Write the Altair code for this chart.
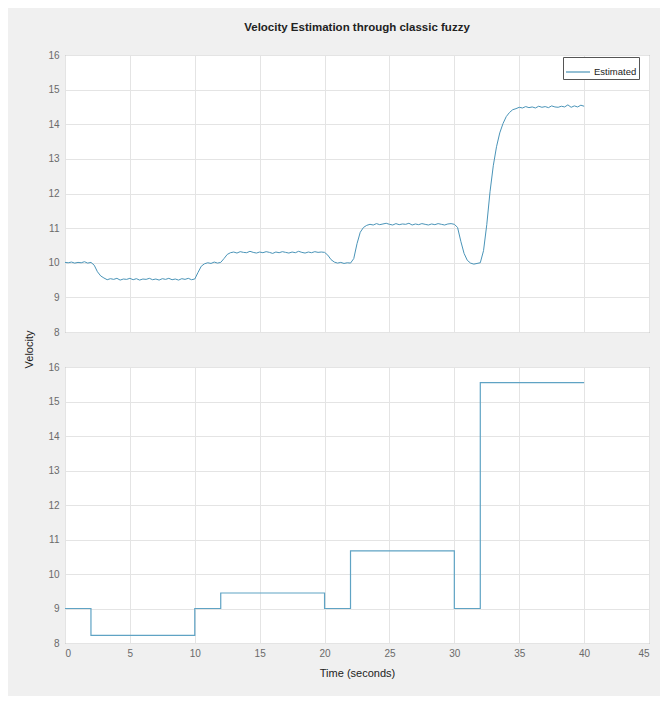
import altair as alt
import pandas as pd

# ---------------- data ----------------
time_est = [
    0.00, 0.25, 0.50, 0.75, 1.00, 1.25, 1.50, 1.75, 2.00, 2.25,
    2.50, 2.75, 3.00, 3.25, 3.50, 3.75, 4.00, 4.25, 4.50, 4.75,
    5.00, 5.25, 5.50, 5.75, 6.00, 6.25, 6.50, 6.75, 7.00, 7.25,
    7.50, 7.75, 8.00, 8.25, 8.50, 8.75, 9.00, 9.25, 9.50, 9.75,
    10.00, 10.25, 10.50, 10.75, 11.00, 11.25, 11.50, 11.75, 12.00, 12.25,
    12.50, 12.75, 13.00, 13.25, 13.50, 13.75, 14.00, 14.25, 14.50, 14.75,
    15.00, 15.25, 15.50, 15.75, 16.00, 16.25, 16.50, 16.75, 17.00, 17.25,
    17.50, 17.75, 18.00, 18.25, 18.50, 18.75, 19.00, 19.25, 19.50, 19.75,
    20.00, 20.25, 20.50, 20.75, 21.00, 21.25, 21.50, 21.75, 22.00, 22.25,
    22.50, 22.75, 23.00, 23.25, 23.50, 23.75, 24.00, 24.25, 24.50, 24.75,
    25.00, 25.25, 25.50, 25.75, 26.00, 26.25, 26.50, 26.75, 27.00, 27.25,
    27.50, 27.75, 28.00, 28.25, 28.50, 28.75, 29.00, 29.25, 29.50, 29.75,
    30.00, 30.25, 30.50, 30.75, 31.00, 31.25, 31.50, 31.75, 32.00, 32.25,
    32.50, 32.75, 33.00, 33.25, 33.50, 33.75, 34.00, 34.25, 34.50, 34.75,
    35.00, 35.25, 35.50, 35.75, 36.00, 36.25, 36.50, 36.75, 37.00, 37.25,
    37.50, 37.75, 38.00, 38.25, 38.50, 38.75, 39.00, 39.25, 39.50, 39.75,
    40.00,
]
vel_est = [
    10.01, 10.00, 10.02, 9.99, 10.01, 10.00, 10.03, 9.99, 10.01, 9.93,
    9.74, 9.62, 9.56, 9.51, 9.54, 9.52, 9.55, 9.50, 9.53, 9.52,
    9.55, 9.51, 9.54, 9.50, 9.53, 9.52, 9.55, 9.51, 9.53, 9.50,
    9.54, 9.52, 9.55, 9.51, 9.53, 9.50, 9.54, 9.52, 9.55, 9.51,
    9.53, 9.72, 9.90, 9.97, 10.00, 9.98, 10.02, 9.99, 10.01, 10.12,
    10.24, 10.29, 10.31, 10.28, 10.32, 10.30, 10.29, 10.33, 10.30, 10.28,
    10.31, 10.29, 10.32, 10.30, 10.27, 10.31, 10.29, 10.32, 10.30, 10.28,
    10.31, 10.29, 10.33, 10.30, 10.28, 10.31, 10.29, 10.32, 10.30, 10.31,
    10.30, 10.22, 10.09, 10.02, 9.99, 10.01, 9.98, 10.00, 9.99, 10.12,
    10.55, 10.88, 11.02, 11.08, 11.11, 11.09, 11.13, 11.10, 11.12, 11.14,
    11.11, 11.09, 11.13, 11.10, 11.12, 11.11, 11.14, 11.09, 11.12, 11.10,
    11.13, 11.11, 11.09, 11.12, 11.10, 11.13, 11.11, 11.09, 11.12, 11.13,
    11.11, 11.02, 10.62, 10.27, 10.07, 9.99, 9.96, 9.98, 10.00, 10.35,
    11.10, 12.05, 12.80, 13.35, 13.75, 14.02, 14.22, 14.34, 14.42, 14.45,
    14.49, 14.47, 14.51, 14.48, 14.50, 14.47, 14.52, 14.49, 14.51, 14.48,
    14.53, 14.50, 14.49, 14.52, 14.50, 14.56, 14.49, 14.53, 14.50, 14.55,
    14.52,
]
series_name = ["Estimated"] * len(time_est)

step_time = [0, 2, 10, 12, 20, 22, 30, 32, 40]
step_vel = [9.0, 8.22, 9.0, 9.45, 9.0, 10.67, 9.0, 15.55, 15.55]

x_ticks = [0, 5, 10, 15, 20, 25, 30, 35, 40, 45]
y_ticks = [8, 9, 10, 11, 12, 13, 14, 15, 16]

# ---------------- chart ----------------
FONT = "Liberation Sans"
C_TOP = "#4a94b8"
C_BOT = "#5fa3c4"
W, H1, H2 = 584, 277, 276

top_df = pd.DataFrame({"t": time_est, "v": vel_est, "series": series_name})
bot_df = pd.DataFrame({"t": step_time, "v": step_vel})

xscale = alt.Scale(domain=[0, 45], nice=False, zero=False)
yscale = alt.Scale(domain=[8, 16], nice=False, zero=False)

axis_common = dict(
    grid=True, gridColor="#e4e4e4", gridWidth=1, ticks=False, domain=False,
    labelFont=FONT, labelFontSize=10, labelColor="#6a6a6a",
)

top = alt.Chart(top_df).mark_line(strokeWidth=1).encode(
    x=alt.X("t:Q", scale=xscale,
            axis=alt.Axis(values=x_ticks, labels=False, title=None, **axis_common)),
    y=alt.Y("v:Q", scale=yscale,
            axis=alt.Axis(values=y_ticks, title=None, labelPadding=6, **axis_common)),
    color=alt.Color(
        "series:N",
        scale=alt.Scale(domain=["Estimated"], range=[C_TOP]),
        legend=alt.Legend(
            title=None, orient="none", legendX=498, legendY=2,
            fillColor="white", strokeColor="#555", padding=2,
            symbolType="stroke", symbolSize=576, symbolStrokeWidth=1.2,
            labelFont=FONT, labelFontSize=9.5, labelColor="#222", labelOffset=3,
        ),
    ),
).properties(width=W, height=H1)

bottom = alt.Chart(bot_df).mark_line(interpolate="step-after", strokeWidth=1.2, color=C_BOT).encode(
    x=alt.X("t:Q", scale=xscale,
            axis=alt.Axis(values=x_ticks, title="Time (seconds)", labelPadding=5,
                          titleFont=FONT, titleFontSize=11, titleFontWeight="normal",
                          titleColor="#222", titlePadding=9, **axis_common)),
    y=alt.Y("v:Q", scale=yscale,
            axis=alt.Axis(values=y_ticks, title="Velocity", labelPadding=6,
                          titleFont=FONT, titleFontSize=11, titleFontWeight="normal",
                          titleColor="#222", titleAngle=-90, titleX=-36, titleY=-18,
                          titleAlign="center", titleBaseline="middle", **axis_common)),
).properties(width=W, height=H2)

chart = alt.vconcat(
    top, bottom, spacing=35, bounds="flush",
    title=alt.Title("Velocity Estimation through classic fuzzy", font=FONT, fontSize=11.5,
                    fontWeight="bold", color="#222", offset=16, anchor="middle", frame="group"),
).properties(
    background="#f0f0f0",
    padding={"left": 14, "right": 10, "top": 14, "bottom": 17},
).configure_view(fill="white", stroke="#8c8c8c", strokeWidth=1)

chart.save("out.html", embed_options={"renderer": "svg", "actions": False})
